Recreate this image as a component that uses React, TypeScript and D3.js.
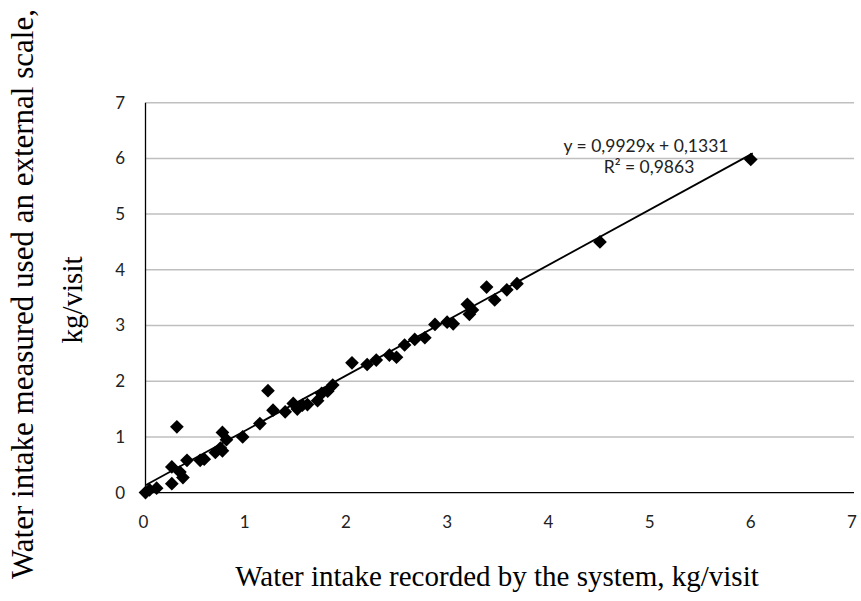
import React from "react";
import * as d3 from "d3";

const xValues = [0.0, 0.04, 0.11, 0.26, 0.26, 0.31, 0.34, 0.37, 0.41, 0.54, 0.58, 0.69, 0.74, 0.76, 0.76, 0.8, 0.96, 1.13, 1.21, 1.26, 1.38, 1.46, 1.5, 1.55, 1.6, 1.7, 1.74, 1.8, 1.85, 2.04, 2.19, 2.28, 2.41, 2.48, 2.56, 2.66, 2.76, 2.86, 2.98, 3.04, 3.18, 3.2, 3.23, 3.37, 3.45, 3.57, 3.67, 4.49, 5.98];
const yValues = [0.0, 0.05, 0.08, 0.46, 0.16, 1.18, 0.37, 0.27, 0.58, 0.58, 0.6, 0.72, 0.8, 1.08, 0.75, 0.95, 1.0, 1.24, 1.83, 1.48, 1.45, 1.6, 1.5, 1.57, 1.58, 1.65, 1.78, 1.82, 1.93, 2.33, 2.3, 2.38, 2.47, 2.43, 2.65, 2.75, 2.78, 3.02, 3.06, 3.03, 3.38, 3.2, 3.28, 3.69, 3.46, 3.64, 3.75, 4.5, 5.98];
const xTicks = [0, 1, 2, 3, 4, 5, 6, 7];
const yTicks = [0, 1, 2, 3, 4, 5, 6, 7];
const slope = 0.9929;
const intercept = 0.1331;
const eqText = "y = 0,9929x + 0,1331";
const r2Text = "R² = 0,9863";
const xTitle = "Water intake recorded by the system, kg/visit";
const yTitle1 = "Water intake measured used an external scale,";
const yTitle2 = "kg/visit";

export default function App() {
  const W = 861, H = 601;
  const x = d3.scaleLinear().domain([0, 7]).range([145.5, 854]);
  const y = d3.scaleLinear().domain([0, 7]).range([492.6, 102.7]);
  const line = d3.line<number>().x((d) => x(d)).y((d) => y(slope * d + intercept));
  const diamond = d3.symbol().type(d3.symbolDiamond2).size(120)();
  const sans = "Lato";
  const serif = "Liberation Serif";
  return (
    <svg width={W} height={H} style={{ position: "absolute", left: 0, top: 0, background: "#fff" }}>
      <rect width={W} height={H} fill="#fff" />
      {yTicks.filter((t) => t > 0).map((t) => (
        <line key={"g" + t} x1={x(0)} x2={x(7)} y1={y(t)} y2={y(t)} stroke="#bfbfbf" strokeWidth={1.5} />
      ))}
      <line x1={x(0)} x2={x(0)} y1={y(0)} y2={y(7)} stroke="#000" strokeWidth={1.3} />
      <line x1={x(0)} x2={x(7)} y1={y(0)} y2={y(0)} stroke="#000" strokeWidth={1.3} />
      {yTicks.map((t) => (
        <text key={"yt" + t} x={125} y={y(t)} dy="0.35em" textAnchor="end" fontFamily={sans} fontSize={17} fill="#222">{t}</text>
      ))}
      {xTicks.map((t) => (
        <text key={"xt" + t} x={x(t) - 2} y={522} dy="0.35em" textAnchor="middle" fontFamily={sans} fontSize={17} fill="#222">{t}</text>
      ))}
      <path d={line([0, 6]) || ""} stroke="#000" strokeWidth={1.8} fill="none" />
      {xValues.map((v, i) => (
        <path key={"p" + i} d={diamond || ""} transform={`translate(${x(v)},${y(yValues[i])})`} fill="#000" />
      ))}
      <text x={646} y={146} dy="0.35em" textAnchor="middle" fontFamily={sans} fontSize={17.5} fill="#222">{eqText}</text>
      <text x={649} y={167} dy="0.35em" textAnchor="middle" fontFamily={sans} fontSize={17.5} fill="#222">{r2Text}</text>
      <text x={497} y={586} textAnchor="middle" fontFamily={serif} fontSize={29} fill="#000">{xTitle}</text>
      <text transform="translate(33,294) rotate(-90)" textAnchor="middle" fontFamily={serif} fontSize={31} fill="#000">{yTitle1}</text>
      <text transform="translate(82,300) rotate(-90)" textAnchor="middle" fontFamily={serif} fontSize={29} fill="#000">{yTitle2}</text>
    </svg>
  );
}
